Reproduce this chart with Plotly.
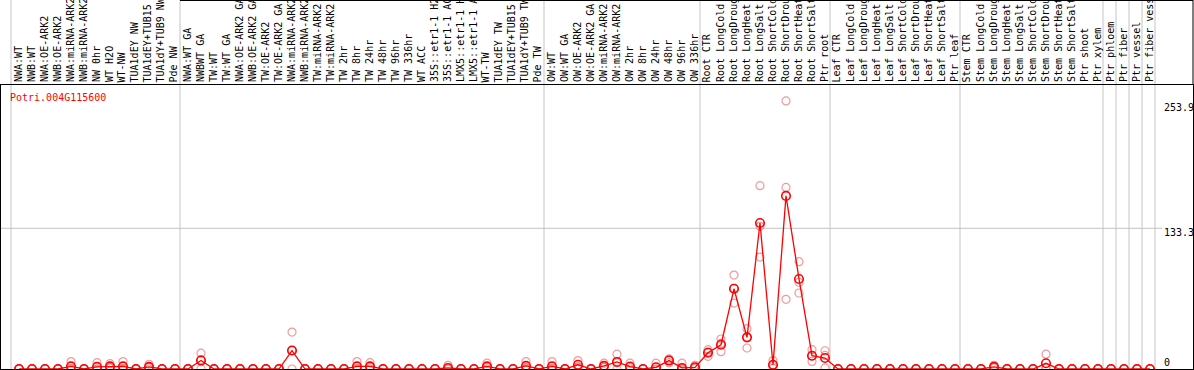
import plotly.graph_objects as go

gene = "Potri.004G115600"

samples = [
    "NWA:WT", "NWB:WT", "NWA:OE-ARK2", "NWB:OE-ARK2", "NWA:miRNA-ARK2", "NWB:miRNA-ARK2",
    "NW 0hr", "WT H2O", "WT-NW", "TUA1dEY NW", "TUA1dEY+TUB15 NW", "TUA1dY+TUB9 NW", "Pde NW",
    "NWA:WT GA", "NWBWT GA", "TW:WT", "TW:WT GA", "NWA:OE-ARK2 GA", "NWB:OE-ARK2 GA",
    "TW:OE-ARK2", "TW:OE-ARK2 GA", "NWA:miRNA-ARK2", "NWB:miRNA-ARK2", "TW:miRNA-ARK2",
    "TW:miRNA-ARK2", "TW 2hr", "TW 8hr", "TW 24hr", "TW 48hr", "TW 96hr", "TW 336hr", "WT ACC",
    "35S::etr1-1 H2O", "35S::etr1-1 ACC", "LMX5::etr1-1 H2O", "LMX5::etr1-1 ACC", "WT-TW",
    "TUA1dEY TW", "TUA1dEY+TUB15 TW", "TUA1dY+TUB9 TW", "Pde TW",
    "OW:WT", "OW:WT GA", "OW:OE-ARK2", "OW:OE-ARK2 GA", "OW:miRNA-ARK2", "OW:miRNA-ARK2",
    "OW 2hr", "OW 8hr", "OW 24hr", "OW 48hr", "OW 96hr", "OW 336hr",
    "Root CTR", "Root LongCold", "Root LongDrought", "Root LongHeat", "Root LongSalt",
    "Root ShortCold", "Root ShortDrought", "Root ShortHeat", "Root ShortSalt", "Ptr root",
    "Leaf CTR", "Leaf LongCold", "Leaf LongDrought", "Leaf LongHeat", "Leaf LongSalt",
    "Leaf ShortCold", "Leaf ShortDrought", "Leaf ShortHeat", "Leaf ShortSalt", "Ptr leaf",
    "Stem CTR", "Stem LongCold", "Stem LongDrought", "Stem LongHeat", "Stem LongSalt",
    "Stem ShortCold", "Stem ShortDrought", "Stem ShortHeat", "Stem ShortSalt", "Ptr shoot",
    "Ptr xylem", "Ptr phloem", "Ptr fiber", "Ptr vessel", "Ptr fiber vessel",
]

means = [
    0, 0, 0, 0, 2.5, 0, 2, 2.5, 2.5, 0, 2, 0, 0,
    0, 8, 0, 0, 0, 0, 0, 0, 17.5, 0, 0, 0, 0, 2.5, 2.5, 0, 0, 0, 0, 0, 1, 0, 0, 2.5, 0, 0, 3, 0,
    2.5, 0, 4, 0, 3, 6.7, 2.3, 0, 1.6, 8, 1, 1.6,
    15.4, 23, 76, 30, 138.3, 4, 164, 85.3, 12.6, 10.4,
    0, 0, 0, 0, 0, 0, 0, 0, 0, 0,
    0, 0, 2, 0, 0, 0, 5.4, 0, 0, 0, 0,
    0, 0, 0, 0,
]

rep_a = [
    0, 0, 0, 0, 7, 0, 6, 5, 7, 0, 4.5, 0, 0,
    0, 15, 0, 0, 0, 0, 0, 0, 35, 0, 0, 0, 0, 7, 6, 0, 0, 0, 0, 0, 3.5, 0, 0, 5.5, 0, 0, 7, 0,
    7, 0, 8, 0, 5.5, 14, 5.5, 0, 5.5, 9.5, 5.5, 3.5,
    18.3, 28.4, 89, 38.2, 173.7, 8, 254, 101.7, 18.3, 17.3,
    0, 0, 0, 0, 0, 0, 0, 0, 0, 0,
    0, 0, 3.5, 0, 0, 0, 14, 0, 0, 0, 0,
    0, 0, 0, 0,
]

rep_b = [
    0, 0, 0, 0, 0.5, 0, 0, 1.5, 0.5, 0, 1.5, 0, 0,
    0, 0, 0, 0, 0, 0, 0, 0, 0, 0, 0, 0, 0, 0.5, 1.5, 0, 0, 0, 0, 0, 0, 0, 0, 1.5, 0, 0, 1, 0,
    0.5, 0, 2, 0, 1.5, 0, 1.5, 0, 0, 6, 0, 1,
    12, 16.4, 62.5, 19.9, 106, 0.5, 66, 72, 7.2, 1,
    0, 0, 0, 0, 0, 0, 0, 0, 0, 0,
    0, 0, 1.5, 0, 0, 0, 1, 0, 0, 0, 0,
    0, 0, 0, 0,
]

rep_c = [
    0, 0, 0, 0, 0, 0, 0, 1, 0, 0, 0, 0, 0,
    0, 9, 0, 0, 0, 0, 0, 0, 17.5, 0, 0, 0, 0, 0, 0, 0, 0, 0, 0, 0, 0, 0, 0, 0, 0, 0, 1, 0,
    0, 0, 2, 0, 2, 6, 0, 0, 0, 8.5, 0, 0.5,
    16, 24.2, 76.5, 30, 135.2, 3.5, 172, 82.2, 12.3, 12.9,
    0, 0, 0, 0, 0, 0, 0, 0, 0, 0,
    0, 0, 1, 0, 0, 0, 1.2, 0, 0, 0, 0,
    0, 0, 0, 0,
]

y_tick_vals = [253.9, 133.3, 0]
y_tick_text = ["253.9", "133.3", "0"]
group_bounds = [0, 13, 41, 53, 63, 73, 84, 85, 86, 87, 88]

# ---- geometry (pixels) ----
W, H = 1194, 370
PT, PB = 85, 369          # plot area top / bottom in pixels
PH = PB - PT
X0 = -18 / 13.0            # x range so that category i sits at pixel 19 + 13 i
X1 = X0 + 1192 / 13.0
YMAX = PH / 1.0555


def py(p):
    return (PB - p) / PH


def px(p):
    return (p - 1) / 1192.0


xs = list(range(len(samples)))

fig = go.Figure()
for reps in (rep_a, rep_b, rep_c):
    fig.add_trace(go.Scatter(
        x=xs, y=reps, mode="markers",
        marker=dict(symbol="circle-open", size=8, color="rgba(235,120,120,0.75)",
                    line=dict(width=1.2)),
        hoverinfo="skip", showlegend=False,
    ))
fig.add_trace(go.Scatter(
    x=xs, y=means, mode="lines+markers", text=samples,
    line=dict(color="#ff0000", width=1.3),
    marker=dict(symbol="circle-open", size=8.5, color="#ff0000", line=dict(width=1.6)),
    showlegend=False,
))

shapes = []
for b in group_bounds:
    shapes.append(dict(type="line", xref="x", yref="paper", x0=b - 8 / 13.0, x1=b - 8 / 13.0,
                       y0=0, y1=py(0), line=dict(color="#c4c4c4", width=1), layer="below"))
shapes.append(dict(type="line", xref="paper", yref="y", x0=0, x1=px(1162), y0=133.3, y1=133.3,
                   line=dict(color="#c4c4c4", width=1), layer="below"))
# right border above plot, top border
shapes.append(dict(type="line", xref="paper", yref="paper", x0=1, x1=1, y0=1, y1=py(0),
                   line=dict(color="black", width=1)))
shapes.append(dict(type="line", xref="paper", yref="paper", x0=px(180), x1=1, y0=py(0.5), y1=py(0.5),
                   line=dict(color="black", width=1)))

annotations = []
for i, s in enumerate(samples):
    annotations.append(dict(
        x=i - 0.08, xref="x", y=py(83), yref="paper", text=s, textangle=-90,
        xanchor="center", yanchor="bottom", showarrow=False, borderpad=0,
        font=dict(family="DejaVu Sans Mono", size=10, color="black"),
    ))
annotations.append(dict(
    x=px(9), xref="paper", y=py(97), yref="paper", text=gene, xanchor="left", yanchor="middle",
    showarrow=False, borderpad=0, font=dict(family="DejaVu Sans Mono", size=10, color="#ff0000"),
))
label_y = [107, 232.5, 362.5]
for t, ly in zip(y_tick_text, label_y):
    annotations.append(dict(
        x=px(1163), xref="paper", y=py(ly), yref="paper", text=t, xanchor="left",
        yanchor="middle", showarrow=False, borderpad=0,
        font=dict(family="DejaVu Sans Mono", size=10, color="black"),
    ))

fig.update_layout(
    width=W, height=H,
    margin=dict(l=1, r=1, t=PT, b=H - PB, pad=0),
    paper_bgcolor="white", plot_bgcolor="white",
    xaxis=dict(range=[X0, X1], showgrid=False, zeroline=False, showticklabels=False,
               showline=True, mirror=True, linecolor="black", linewidth=1, ticks=""),
    yaxis=dict(range=[0, YMAX], showgrid=False, zeroline=False, showticklabels=False,
               showline=True, mirror=True, linecolor="black", linewidth=1, ticks=""),
    shapes=shapes, annotations=annotations,
)

fig.write_html(
    "out.html",
    config={"displayModeBar": False},
    post_script="document.body.style.margin='0';document.body.style.overflow='hidden';",
)
